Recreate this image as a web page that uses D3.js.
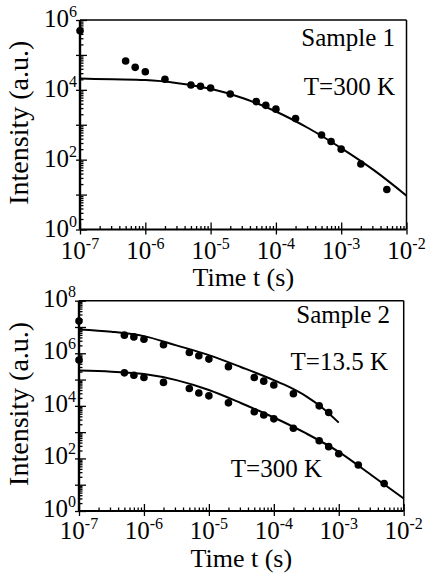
<!DOCTYPE html>
<html><head><meta charset="utf-8">
<script src="https://cdn.jsdelivr.net/npm/d3@7"></script>
<style>
body{margin:0;background:#fff}
svg{display:block;background:#fff}
text{font-family:"Liberation Serif","Times New Roman",serif;fill:#000}
</style>
</head><body>
<svg id="c" width="427" height="577"></svg>
<script>
// ---------- data ----------
const xTickExponents = [-7, -6, -5, -4, -3, -2];
const s1YTickExponents = [0, 2, 4, 6];
const s2YTickExponents = [0, 2, 4, 6, 8];

// Sample 1, T = 300 K (measured points)
const s1Time = [1e-7, 5e-7, 7e-7, 1e-6, 2e-6, 5e-6, 7e-6, 1e-5, 2e-5, 5e-5, 7e-5, 1e-4, 2e-4, 5e-4, 7e-4, 1e-3, 2e-3, 5e-3];
const s1Intensity = [4.9e5, 6.7e4, 4.4e4, 3.3e4, 2.0e4, 1.38e4, 1.27e4, 1.13e4, 7.6e3, 4.6e3, 3.6e3, 2.8e3, 1.5e3, 510, 330, 200, 75, 14];
// Sample 1 fit curve
const s1FitTime = [1e-7, 3.16e-7, 1e-6, 3.16e-6, 1e-5, 3.16e-5, 1e-4, 3.16e-4, 1e-3, 3.16e-3, 1e-2];
const s1FitIntensity = [2.1e4, 2.0e4, 1.9e4, 1.55e4, 1.07e4, 5.75e3, 2.4e3, 794, 214, 50, 9.3];

// Sample 2, T = 13.5 K
const s2LowTTime = [1e-7, 5e-7, 7e-7, 1e-6, 2e-6, 5e-6, 7e-6, 1e-5, 2e-5, 5e-5, 7e-5, 1e-4, 2e-4, 5e-4, 7e-4];
const s2LowTIntensity = [1.7e7, 4.9e6, 4.2e6, 3.4e6, 2.1e6, 1.07e6, 8.0e5, 6.0e5, 3.1e5, 1.2e5, 8.7e4, 6.2e4, 2.9e4, 1.0e4, 5.6e3];
const s2LowTFitTime = [1e-7, 3.16e-7, 1e-6, 3.16e-6, 1e-5, 3.16e-5, 1e-4, 1.78e-4, 3.16e-4, 5.62e-4, 1e-3];
const s2LowTFitIntensity = [8.1e6, 6.6e6, 4.5e6, 2.0e6, 8.5e5, 2.95e5, 9.5e4, 5.0e4, 2.3e4, 8.3e3, 2.3e3];

// Sample 2, T = 300 K
const s2RoomTime = [1e-7, 5e-7, 7e-7, 1e-6, 2e-6, 5e-6, 7e-6, 1e-5, 2e-5, 5e-5, 7e-5, 1e-4, 2e-4, 5e-4, 7e-4, 1e-3, 2e-3, 5e-3];
const s2RoomIntensity = [5.5e5, 1.8e5, 1.45e5, 1.2e5, 7.8e4, 4.6e4, 3.1e4, 2.4e4, 1.3e4, 6.0e3, 4.5e3, 3.2e3, 1.4e3, 470, 280, 150, 56, 11];
const s2RoomFitTime = [1e-7, 3.16e-7, 1e-6, 3.16e-6, 1e-5, 3.16e-5, 1e-4, 3.16e-4, 1e-3, 3.16e-3, 1e-2];
const s2RoomFitIntensity = [2.2e5, 2.0e5, 1.62e5, 9.5e4, 4.0e4, 1.26e4, 3.6e3, 890, 178, 23.4, 3.0];

// ---------- drawing ----------
const svg = d3.select("#c");
const zip = (a, b) => a.map((t, i) => ({t, v: b[i]}));

function minorValues(lo, hi) {
  const out = [];
  for (let e = lo; e < hi; e++) for (let k = 2; k <= 9; k++) out.push(k * Math.pow(10, e));
  return out;
}

function panel(cfg) {
  const g = svg.append("g");
  const x = d3.scaleLog().domain([1e-7, 1e-2]).range([cfg.L, cfg.R]);
  const y = d3.scaleLog().domain([1, Math.pow(10, cfg.yMaxExp)]).range([cfg.B, cfg.T]);
  const xMajor = xTickExponents.map(e => Math.pow(10, e));
  const yMajor = d3.range(0, cfg.yMaxExp + 1).map(e => Math.pow(10, e));

  const styleAxis = sel => {
    sel.select(".domain").remove();
    sel.selectAll(".tick line").attr("stroke", "#000").attr("stroke-width", 1.3);
  };

  // x axis ticks
  g.append("g").attr("transform", `translate(0,${cfg.B})`)
    .call(d3.axisBottom(x).tickValues(minorValues(-7, -2)).tickSize(-3.5).tickFormat(""))
    .call(styleAxis);
  g.append("g").attr("transform", `translate(0,${cfg.B})`)
    .call(d3.axisBottom(x).tickValues(xMajor).tickSize(-7).tickFormat(""))
    .call(styleAxis);
  g.append("g").attr("transform", `translate(0,${cfg.B})`)
    .call(d3.axisBottom(x).tickValues(xMajor).tickSize(5).tickFormat(""))
    .call(styleAxis);

  // y axis ticks
  g.append("g").attr("transform", `translate(${cfg.L},0)`)
    .call(d3.axisLeft(y).tickValues(minorValues(0, cfg.yMaxExp)).tickSize(-3.5).tickFormat(""))
    .call(styleAxis);
  g.append("g").attr("transform", `translate(${cfg.L},0)`)
    .call(d3.axisLeft(y).tickValues(yMajor).tickSize(-7).tickFormat(""))
    .call(styleAxis);
  g.append("g").attr("transform", `translate(${cfg.L},0)`)
    .call(d3.axisLeft(y).tickValues(yMajor).tickSize(4).tickFormat(""))
    .call(styleAxis);

  // frame
  g.append("line").attr("x1", cfg.L).attr("x2", cfg.R).attr("y1", cfg.T).attr("y2", cfg.T).attr("stroke", "#000").attr("stroke-width", 1.5);
  g.append("line").attr("x1", cfg.R).attr("x2", cfg.R).attr("y1", cfg.T).attr("y2", cfg.B).attr("stroke", "#000").attr("stroke-width", 1.5);
  g.append("line").attr("x1", cfg.L).attr("x2", cfg.R).attr("y1", cfg.B).attr("y2", cfg.B).attr("stroke", "#000").attr("stroke-width", 2.2);
  g.append("line").attr("x1", cfg.L).attr("x2", cfg.L).attr("y1", cfg.T).attr("y2", cfg.B).attr("stroke", "#000").attr("stroke-width", 2.4);

  // x tick labels
  xTickExponents.forEach(e => {
    const t = g.append("text").attr("x", x(Math.pow(10, e))).attr("y", cfg.B + cfg.xLabDy)
      .attr("text-anchor", "middle").attr("font-size", 25);
    t.append("tspan").text("10");
    t.append("tspan").attr("dy", -10).attr("font-size", 16).text(String(e));
  });
  // y tick labels
  cfg.yLabels.forEach(e => {
    const t = g.append("text").attr("x", cfg.L - 3).attr("y", y(Math.pow(10, e)) + cfg.yLabDy)
      .attr("text-anchor", "end").attr("font-size", 25);
    t.append("tspan").text("10");
    t.append("tspan").attr("dy", -10).attr("font-size", 16).text(String(e));
  });

  // axis titles
  g.append("text").attr("x", (cfg.L + cfg.R) / 2).attr("y", cfg.B + 56)
    .attr("text-anchor", "middle").attr("font-size", 26).text("Time t (s)");
  g.append("text").attr("transform", `translate(28,${(cfg.T + cfg.B) / 2 - 2}) rotate(-90)`)
    .attr("text-anchor", "middle").attr("font-size", 28).text("Intensity (a.u.)");

  const line = d3.line().x(d => x(d.t)).y(d => y(d.v)).curve(d3.curveMonotoneX);
  cfg.series.forEach(s => {
    g.append("path").datum(zip(s.fitT, s.fitI)).attr("d", line)
      .attr("fill", "none").attr("stroke", "#000").attr("stroke-width", 2);
    g.append("g").selectAll("circle").data(zip(s.t, s.i)).join("circle")
      .attr("cx", d => x(d.t)).attr("cy", d => y(d.v)).attr("r", 3.8).attr("fill", "#000");
  });

  cfg.notes.forEach(n => {
    g.append("text").attr("x", n.x).attr("y", n.y).attr("text-anchor", "end")
      .attr("font-size", 25).text(n.text);
  });
}

panel({
  L: 80, R: 406.5, T: 20, B: 229.5, yMaxExp: 6, yLabels: s1YTickExponents,
  xLabDy: 29, yLabDy: 7,
  series: [{t: s1Time, i: s1Intensity, fitT: s1FitTime, fitI: s1FitIntensity}],
  notes: [{text: "Sample 1", x: 395, y: 45.5}, {text: "T=300 K", x: 395, y: 95}]
});

panel({
  L: 79, R: 403.7, T: 300.7, B: 511, yMaxExp: 8, yLabels: s2YTickExponents,
  xLabDy: 28, yLabDy: 6,
  series: [
    {t: s2LowTTime, i: s2LowTIntensity, fitT: s2LowTFitTime, fitI: s2LowTFitIntensity},
    {t: s2RoomTime, i: s2RoomIntensity, fitT: s2RoomFitTime, fitI: s2RoomFitIntensity}
  ],
  notes: [{text: "Sample 2", x: 390, y: 323}, {text: "T=13.5 K", x: 388, y: 370}, {text: "T=300 K", x: 322, y: 477}]
});
</script>
</body></html>
